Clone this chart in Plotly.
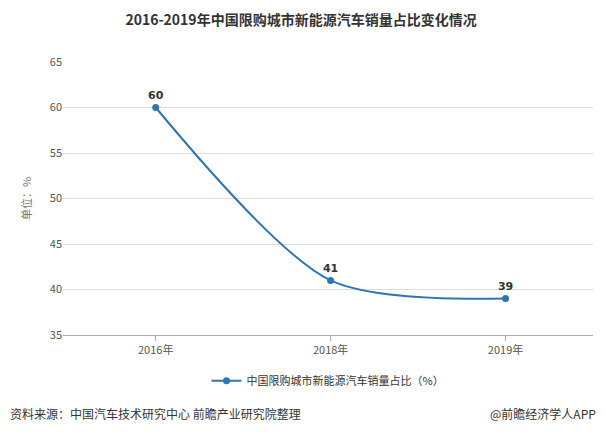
import plotly.graph_objects as go

years = ["2016年", "2018年", "2019年"]
values = [60, 41, 39]
series_name = "中国限购城市新能源汽车销量占比（%）"

fig = go.Figure()
fig.add_trace(go.Scatter(
    x=years, y=values, mode="lines+markers+text", name=series_name,
    line=dict(color="#2E75B6", width=2, shape="spline", smoothing=0.8),
    marker=dict(size=7, color="#2E75B6"),
    text=["<b>%d</b>" % v for v in values], textposition="top center",
    textfont=dict(size=11, color="#333", family="DejaVu Sans"),
))
fig.update_layout(
    width=598, height=429, plot_bgcolor="white", paper_bgcolor="white",
    font=dict(family="Noto Sans CJK SC", color="#555", size=11),
    title=dict(text="<b>2016-2019年中国限购城市新能源汽车销量占比变化情况</b>",
               x=0.49, y=0.972, xanchor="center", yanchor="middle", font=dict(size=14, color="#333")),
    margin=dict(l=55, r=13, t=54, b=102),
    showlegend=True,
    legend=dict(orientation="h", x=0.5, xanchor="center", y=-0.168, yanchor="middle",
                font=dict(size=11, color="#333")),
    xaxis=dict(type="category", showgrid=False, showline=True, linecolor="#aaa",
               ticks="outside", tickcolor="#aaa", ticklen=5, range=[-0.53, 2.5]),
    yaxis=dict(range=[35, 65], dtick=5, showgrid=True, gridcolor="#ddd",
               zeroline=False, title=dict(text="单位：%", font=dict(size=11, color="#777"))),
)
fig.add_annotation(text="资料来源：中国汽车技术研究中心 前瞻产业研究院整理", xref="paper", yref="paper",
                   x=-0.104, y=-0.286, xanchor="left", yanchor="middle", showarrow=False,
                   font=dict(size=12, color="#333"))
fig.add_annotation(text="@前瞻经济学人APP", xref="paper", yref="paper",
                   x=1.01, y=-0.286, xanchor="right", yanchor="middle", showarrow=False,
                   font=dict(size=12, color="#333"))
fig.write_html("out.html")
